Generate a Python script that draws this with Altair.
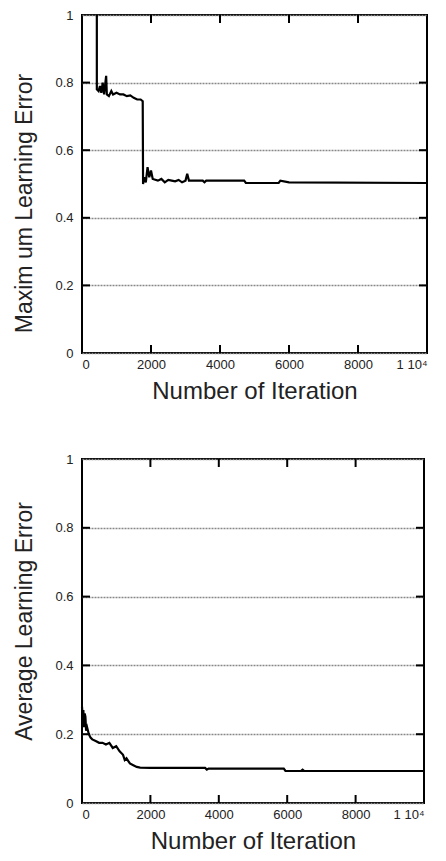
import altair as alt
import pandas as pd

# Top panel: maximum learning error
max_iter = [430, 430, 480, 520, 560, 600, 640, 700, 720, 780, 850, 900, 1000, 1100, 1200, 1300, 1400, 1500, 1600, 1700, 1760,
            1770, 1800, 1850, 1900, 1950, 2000, 2050, 2200, 2300, 2400, 2500, 2600, 2700, 2800, 2900, 3000, 3050, 3100,
            3500, 3550, 3600, 4700, 4750, 5700, 5750, 6000, 10000]
max_err = [1.0, 0.78, 0.775, 0.79, 0.77, 0.8, 0.765, 0.82, 0.765, 0.76, 0.775, 0.765, 0.77, 0.765, 0.765, 0.76, 0.762, 0.755, 0.75, 0.75, 0.745,
           0.5, 0.52, 0.505, 0.55, 0.52, 0.54, 0.515, 0.51, 0.515, 0.505, 0.512, 0.51, 0.508, 0.512, 0.505, 0.51, 0.53, 0.51,
           0.51, 0.505, 0.51, 0.51, 0.503, 0.503, 0.51, 0.505, 0.503]

# Bottom panel: average learning error
avg_iter = [0, 20, 40, 60, 80, 100, 120, 150, 200, 250, 300, 400, 500, 600, 700, 800, 900, 1000, 1100, 1200, 1250, 1300,
            1400, 1500, 1600, 1700, 2000, 3600, 3650, 3700, 5900, 5950, 6400, 6450, 6500, 10000]
avg_err = [0.28, 0.25, 0.27, 0.22, 0.26, 0.25, 0.21, 0.22, 0.2, 0.19, 0.185, 0.18, 0.175, 0.175, 0.17, 0.175, 0.16, 0.165, 0.15, 0.14, 0.125, 0.13,
           0.115, 0.11, 0.105, 0.103, 0.102, 0.102, 0.097, 0.1, 0.1, 0.093, 0.093, 0.097, 0.093, 0.093]

x_ticks = [0, 2000, 4000, 6000, 8000, 10000]
y_ticks = [0, 0.2, 0.4, 0.6, 0.8, 1.0]

FONT = "Liberation Sans"


def panel(xs, ys, ytitle, w, h, title_y):
    df = pd.DataFrame({"iter": xs, "err": ys, "order": list(range(len(xs)))})
    xscale = alt.Scale(domain=[0, 10000], nice=False)
    yscale = alt.Scale(domain=[0, 1], nice=False)
    xaxis = alt.Axis(values=x_ticks, format="d", title="Number of Iteration",
                     labelExpr="datum.value == 10000 ? '1 10\u2074' : datum.label",
                     ticks=False, grid=False, domain=False, labelPadding=5,
                     labelFontSize=13, labelFont=FONT, labelColor="#222",
                     titleFont=FONT, titleFontSize=24, titleFontWeight="normal", titlePadding=8,
                     titleColor="#222")
    yaxis = alt.Axis(values=y_ticks, title=ytitle, format=".1~f",
                     ticks=False, domain=False, labelPadding=9,
                     grid=True, gridColor="#888", gridDash=[2, 1], gridWidth=1.3,
                     labelFontSize=13, labelFont=FONT, labelColor="#222",
                     titleFont=FONT, titleFontSize=23, titleFontWeight="normal", titlePadding=18,
                     titleColor="#222", titleY=title_y)
    line = alt.Chart(df).mark_line(color="black", strokeWidth=2.2).encode(
        x=alt.X("iter:Q", scale=xscale, axis=xaxis),
        y=alt.Y("err:Q", scale=yscale, axis=yaxis),
        order="order:Q",
    )
    xt = pd.DataFrame({"v": x_ticks[1:-1]})
    yt = pd.DataFrame({"v": y_ticks[1:-1]})
    tb = alt.Chart(xt).mark_rule(color="black", strokeWidth=2).encode(
        x=alt.X("v:Q", scale=xscale), y=alt.value(h), y2=alt.value(h - 8))
    tt = alt.Chart(xt).mark_rule(color="black", strokeWidth=2).encode(
        x=alt.X("v:Q", scale=xscale), y=alt.value(0), y2=alt.value(8))
    tl = alt.Chart(yt).mark_rule(color="black", strokeWidth=2).encode(
        y=alt.Y("v:Q", scale=yscale), x=alt.value(0), x2=alt.value(8))
    tr = alt.Chart(yt).mark_rule(color="black", strokeWidth=2).encode(
        y=alt.Y("v:Q", scale=yscale), x=alt.value(w - 8), x2=alt.value(w))
    return alt.layer(line, tb, tt, tl, tr).properties(width=w, height=h)


top = panel(max_iter, max_err, "Maxim um  Learning Error", 345, 338, 188)
bottom = panel(avg_iter, avg_err, "Average Learning Error", 342, 344, 162)

chart = alt.vconcat(top, bottom, spacing=48).properties(
    background="white",
    padding={"left": 4, "top": 0, "right": 0, "bottom": 0},
).configure_view(stroke="black", strokeWidth=2)

chart.save("out.html", embed_options={"renderer": "svg", "actions": False})
